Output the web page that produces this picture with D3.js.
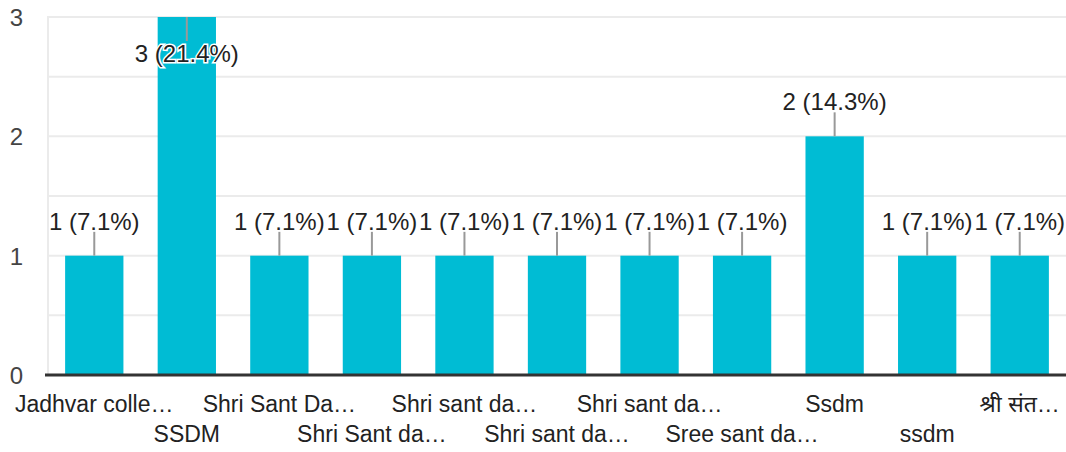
<!DOCTYPE html>
<html>
<head>
<meta charset="utf-8">
<script src="https://cdn.jsdelivr.net/npm/d3@7"></script>
<style>
  body { margin: 0; background: #fff; }
  text { font-family: "Liberation Sans", Arial, "Noto Sans", sans-serif; }
</style>
</head>
<body>
<div id="chart"></div>
<script>
// categories as they show on the axis (already cut by the chart)
const categories = ["Jadhvar colle…", "SSDM", "Shri Sant Da…", "Shri Sant da…", "Shri sant da…",
    "Shri sant da…", "Shri sant da…", "Sree sant da…", "Ssdm", "ssdm", "श्री संत…"];
const counts = [1, 3, 1, 1, 1, 1, 1, 1, 2, 1, 1];
const yTicks = [0, 1, 2, 3];
const gridLines = [0.5, 1, 1.5, 2, 2.5, 3];

const width = 1066, height = 452;
const total = d3.sum(counts);

const svg = d3.select("#chart").append("svg")
    .attr("width", width)
    .attr("height", height);

const x = d3.scaleBand()
    .domain(d3.range(categories.length))
    .range([48, 1066])
    .paddingInner(0.37)
    .paddingOuter(0.185);

const y = d3.scaleLinear()
    .domain([0, 3])
    .range([375, 17]);

// grid
svg.selectAll(".grid")
    .data(gridLines)
    .enter().append("line")
    .attr("x1", 47).attr("x2", width)
    .attr("y1", d => y(d)).attr("y2", d => y(d))
    .style("stroke", "#ebebeb")
    .style("stroke-width", 2);
svg.append("line")
    .attr("x1", 48).attr("x2", 48)
    .attr("y1", y(3)).attr("y2", y(0))
    .style("stroke", "#ebebeb")
    .style("stroke-width", 2);

// y labels
svg.selectAll(".ylab")
    .data(yTicks)
    .enter().append("text")
    .attr("x", 23)
    .attr("y", d => y(d) + 9)
    .attr("text-anchor", "end")
    .style("font-size", "24px")
    .style("fill", "#444")
    .text(d => d);

// bars
svg.selectAll(".bar")
    .data(counts)
    .enter().append("rect")
    .attr("x", (d, i) => x(i))
    .attr("y", d => y(d))
    .attr("width", x.bandwidth())
    .attr("height", d => y(0) - y(d))
    .attr("fill", "#00bcd4");

// baseline
svg.append("line")
    .attr("x1", 45).attr("x2", width)
    .attr("y1", y(0)).attr("y2", y(0))
    .style("stroke", "#333")
    .style("stroke-width", 3);

// annotations: stem + label, put inside the bar when no room above
counts.forEach((d, i) => {
    const cx = x(i) + x.bandwidth() / 2;
    const top = y(d);
    const inside = top - 50 < 0;
    const stemEnd = inside ? top + 24 : top - 24;
    svg.append("line")
        .attr("x1", cx).attr("x2", cx)
        .attr("y1", top).attr("y2", stemEnd)
        .style("stroke", "#999")
        .style("stroke-width", 2);
    svg.append("text")
        .attr("x", cx)
        .attr("y", inside ? stemEnd + 21 : stemEnd - 2)
        .attr("text-anchor", "middle")
        .style("font-size", "24px")
        .style("fill", "#222")
        .style("stroke", "#fff")
        .style("stroke-width", 3)
        .style("paint-order", "stroke")
        .text(d + " (" + (d / total * 100).toFixed(1) + "%)");
});

// x labels, alternating rows
svg.selectAll(".xlab")
    .data(categories)
    .enter().append("text")
    .attr("x", (d, i) => x(i) + x.bandwidth() / 2)
    .attr("y", (d, i) => i % 2 === 0 ? 412 : 442)
    .attr("text-anchor", "middle")
    .style("font-size", "23px")
    .style("fill", "#222")
    .text(d => d);
</script>
</body>
</html>
